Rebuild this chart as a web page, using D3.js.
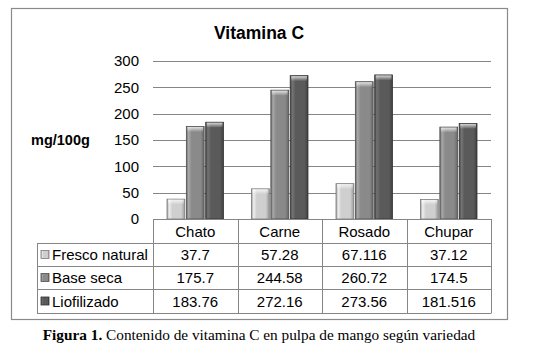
<!DOCTYPE html>
<html><head><meta charset="utf-8">
<script src="https://cdn.jsdelivr.net/npm/d3@7"></script>
<style>body{margin:0;background:#fff}</style>
</head><body><svg id="c" width="541" height="358"></svg>
<script>
const categories = ["Chato", "Carne", "Rosado", "Chupar"];
const seriesNames = ["Fresco natural", "Base seca", "Liofilizado"];
const frescoNatural = [37.7, 57.28, 67.116, 37.12];
const baseSeca = [175.7, 244.58, 260.72, 174.5];
const liofilizado = [183.76, 272.16, 273.56, 181.516];
const valueLabels = [
  ["37.7", "57.28", "67.116", "37.12"],
  ["175.7", "244.58", "260.72", "174.5"],
  ["183.76", "272.16", "273.56", "181.516"]
];
const yTicks = [0, 50, 100, 150, 200, 250, 300];
const title = "Vitamina C";
const yLabel = "mg/100g";

const seriesValues = [frescoNatural, baseSeca, liofilizado];
const palette = [
  {base: "#cfcfcf", light: "#eeeeee", dark: "#9a9a9a", edge: "#7a7a7a"},
  {base: "#8a8a8a", light: "#a8a8a8", dark: "#666666", edge: "#4f4f4f"},
  {base: "#5a5a5a", light: "#747474", dark: "#404040", edge: "#333333"}
];

const svg = d3.select("#c");
const font = "'Liberation Sans', Arial, sans-serif";
const gridColor = "#868686";

// defs
const defs = svg.append("defs");
palette.forEach((p, i) => {
  const g = defs.append("linearGradient").attr("id", "g" + i).attr("x1", 0).attr("x2", 1).attr("y1", 0).attr("y2", 0);
  [[0, p.dark], [0.12, p.light], [0.3, p.base], [0.8, p.base], [1, p.dark]].forEach(([o, c]) =>
    g.append("stop").attr("offset", o).attr("stop-color", c));
  const h = defs.append("linearGradient").attr("id", "h" + i).attr("x1", 0).attr("x2", 0).attr("y1", 0).attr("y2", 1);
  h.append("stop").attr("offset", 0).attr("stop-color", "#fff").attr("stop-opacity", 0.75);
  h.append("stop").attr("offset", 1).attr("stop-color", "#fff").attr("stop-opacity", 0);
});

// outer frame
svg.append("rect").attr("x", 11.5).attr("y", 8.5).attr("width", 496).attr("height", 311)
  .attr("fill", "#fff").attr("stroke", "#8a8a8a").attr("stroke-width", 1.2);

const plot = {left: 153, right: 491, top: 61, bottom: 219};
const x0 = d3.scaleBand().domain(categories).range([plot.left, plot.right]).padding(0);
const x1 = d3.scaleBand().domain(seriesNames).range([14, x0.bandwidth() - 14]).paddingInner(0.08);
const y = d3.scaleLinear().domain([0, 300]).range([plot.bottom, plot.top]);

// title
svg.append("text").attr("x", 259).attr("y", 39).attr("text-anchor", "middle")
  .attr("font-family", font).attr("font-weight", "bold").attr("font-size", 17.5).text(title);

// y label
svg.append("text").attr("x", 31).attr("y", 145).attr("font-family", font)
  .attr("font-weight", "bold").attr("font-size", 14.5).text(yLabel);

// gridlines
svg.append("g").selectAll("line").data(yTicks).join("line")
  .attr("x1", plot.left).attr("x2", plot.right)
  .attr("y1", d => Math.round(y(d)) + 0.5).attr("y2", d => Math.round(y(d)) + 0.5)
  .attr("stroke", gridColor).attr("stroke-width", 1);

// y axis labels
const yAxis = d3.axisLeft(y).tickValues(yTicks).tickSize(0).tickPadding(0);
const ga = svg.append("g").attr("transform", `translate(139,0)`).call(yAxis);
ga.select(".domain").remove();
ga.selectAll("text").attr("font-family", font).attr("font-size", 15).attr("fill", "#000");

// bars
const groups = svg.append("g").selectAll("g").data(categories).join("g")
  .attr("transform", d => `translate(${x0(d)},0)`);
seriesNames.forEach((s, si) => {
  groups.each(function(c, ci) {
    const v = seriesValues[si][ci];
    const bx = x1(s), bw = x1.bandwidth();
    const top = y(v), h = y(0) - y(v);
    const g = d3.select(this);
    g.append("rect").attr("x", bx).attr("y", top).attr("width", bw).attr("height", h)
      .attr("fill", `url(#g${si})`).attr("stroke", palette[si].edge).attr("stroke-width", 0.8);
    g.append("rect").attr("x", bx + 1).attr("y", top + 0.5).attr("width", bw - 2).attr("height", Math.min(5, h))
      .attr("fill", `url(#h${si})`);
  });
});

// table
const rowLines = [219, 243, 266, 289, 313];
const tableLeft = 37;
const tg = svg.append("g").attr("stroke", gridColor).attr("stroke-width", 1).attr("fill", "none");
rowLines.forEach((ly, i) => {
  tg.append("line").attr("x1", i === 0 ? plot.left : tableLeft).attr("x2", plot.right)
    .attr("y1", ly + 0.5).attr("y2", ly + 0.5);
});
const vx = [plot.left].concat(categories.map(c => x0(c) + x0.bandwidth()));
vx.forEach(lx => {
  tg.append("line").attr("x1", Math.round(lx) + 0.5).attr("x2", Math.round(lx) + 0.5)
    .attr("y1", rowLines[0]).attr("y2", rowLines[4] + 0.5);
});
tg.append("line").attr("x1", tableLeft + 0.5).attr("x2", tableLeft + 0.5)
  .attr("y1", rowLines[1]).attr("y2", rowLines[4] + 0.5);

// header labels
svg.append("g").selectAll("text").data(categories).join("text")
  .attr("x", d => x0(d) + x0.bandwidth() / 2).attr("y", (rowLines[0] + rowLines[1]) / 2 + 5.5)
  .attr("text-anchor", "middle").attr("font-family", font).attr("font-size", 15).text(d => d);

// rows
seriesNames.forEach((s, si) => {
  const cy = (rowLines[si + 1] + rowLines[si + 2]) / 2;
  svg.append("rect").attr("x", 41).attr("y", cy - 4).attr("width", 8).attr("height", 8)
    .attr("fill", `url(#g${si})`).attr("stroke", palette[si].edge).attr("stroke-width", 0.8);
  svg.append("text").attr("x", 52).attr("y", cy + 5.5).attr("font-family", font)
    .attr("font-size", 15).text(s);
  svg.append("g").selectAll("text").data(categories).join("text")
    .attr("x", d => x0(d) + x0.bandwidth() / 2).attr("y", cy + 5.5)
    .attr("text-anchor", "middle").attr("font-family", font).attr("font-size", 15)
    .text((d, ci) => valueLabels[si][ci]);
});

// caption
const cap = svg.append("text").attr("x", 259).attr("y", 340).attr("text-anchor", "middle")
  .attr("font-family", "'Liberation Serif', 'Times New Roman', serif").attr("font-size", 15.3);
cap.append("tspan").attr("font-weight", "bold").text("Figura 1.");
cap.append("tspan").text(" Contenido de vitamina C en pulpa de mango según variedad");
</script></body></html>
